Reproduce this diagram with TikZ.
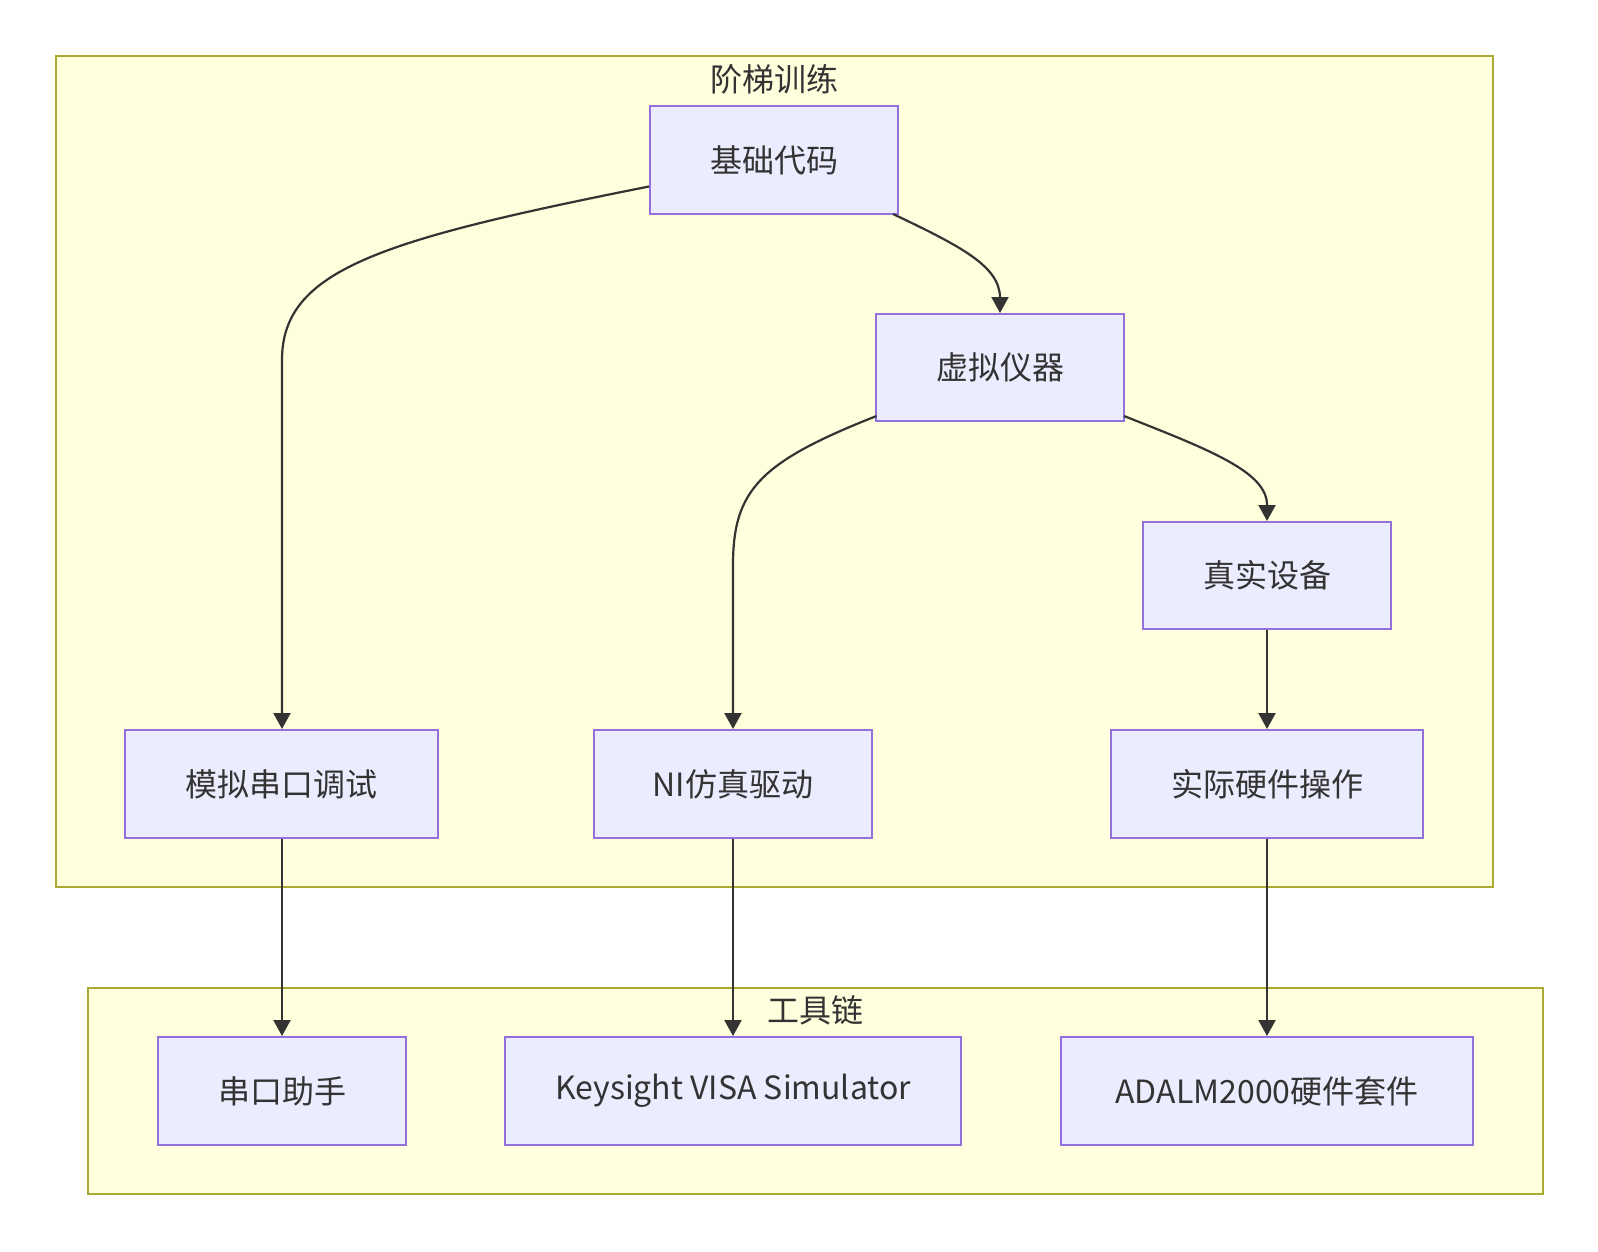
\documentclass[tikz,border=0pt]{standalone}
\usepackage{fontspec}
\setmainfont{Noto Sans CJK SC}
\usetikzlibrary{arrows.meta}
\definecolor{clfill}{HTML}{FFFFDE}
\definecolor{cldraw}{HTML}{AAAA33}
\definecolor{ndfill}{HTML}{ECECFF}
\definecolor{nddraw}{HTML}{9370DB}
\definecolor{txt}{HTML}{333333}
\tikzset{
  cluster/.style={fill=clfill,draw=cldraw,line width=2.2pt},
  box/.style={fill=ndfill,draw=nddraw,line width=2pt,inner sep=0pt,text=txt,font=\fontsize{32}{38}\selectfont},
  ctitle/.style={text=txt,font=\fontsize{32}{38}\selectfont,inner sep=0pt},
  edge/.style={draw=txt,line width=2.2pt,-{Triangle[length=16pt,width=17pt]}},
}
\begin{document}
\begin{tikzpicture}[x=1pt,y=-1pt]
\useasboundingbox (0,0) rectangle (1598,1252);
% clusters
\draw[cluster] (56,56) rectangle (1493,887);
\node[ctitle] (t1) at (774.5,79) {阶梯训练};
\draw[cluster] (88,988) rectangle (1543,1194);
\node[ctitle] (t2) at (815.5,1010) {工具链};
% nodes
\node[box,minimum width=248pt,minimum height=108pt] (base) at (774,160) {基础代码};
\node[box,minimum width=248pt,minimum height=107pt] (virt) at (1000,367.5) {虚拟仪器};
\node[box,minimum width=248pt,minimum height=107pt] (real) at (1267,575.5) {真实设备};
\node[box,minimum width=313pt,minimum height=108pt] (sim) at (281.5,784) {模拟串口调试};
\node[box,minimum width=278pt,minimum height=108pt] (ni) at (733,784) {NI仿真驱动};
\node[box,minimum width=312pt,minimum height=108pt] (hw) at (1267,784) {实际硬件操作};
\node[box,minimum width=248pt,minimum height=108pt] (ser) at (282,1091) {串口助手};
\node[box,minimum width=456pt,minimum height=108pt] (key) at (733,1091) {\raisebox{-2pt}{Keysight VISA Simulator}};
\node[box,minimum width=412pt,minimum height=108pt] (ada) at (1267,1091) {ADALM2000硬件套件};
% edges
\coordinate (b1) at (base.west |- 0,186.5);
\draw[edge] (b1) .. controls (380,240) and (282,270) .. (282,360) -- (sim.north -| 282,0);
\coordinate (b2) at (893,214);
\draw[edge] (b2) .. controls (960,246) and (1000,266) .. (1000,298) -- (virt.north);
\coordinate (v1) at (876.5,416);
\draw[edge] (v1) .. controls (760,462) and (733,490) .. (733,565) -- (ni.north);
\coordinate (v2) at (1124,416);
\draw[edge] (v2) .. controls (1210,450) and (1267,472) .. (1267,505) -- (real.north);
\draw[edge] (real.south) -- (hw.north);
\draw[edge] (sim.south -| 282,0) -- (ser.north);
\draw[edge] (ni.south) -- (key.north);
\draw[edge] (hw.south) -- (ada.north);
\end{tikzpicture}
\end{document}
